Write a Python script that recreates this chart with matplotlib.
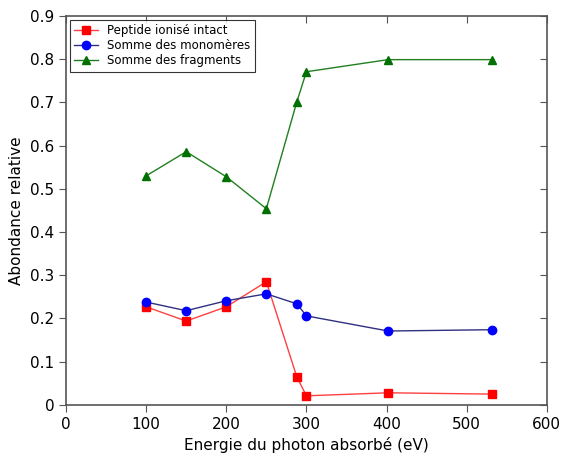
import matplotlib
matplotlib.use("Agg")
from matplotlib import pyplot as plt

# Données
energie = [100, 150, 200, 250, 288, 300, 402, 531]
peptide = [0.227, 0.194, 0.227, 0.285, 0.065, 0.021, 0.028, 0.025]
monomeres = [0.238, 0.218, 0.241, 0.257, 0.234, 0.206, 0.171, 0.174]
fragments = [0.530, 0.586, 0.528, 0.454, 0.701, 0.771, 0.799, 0.799]

xticks = [0, 100, 200, 300, 400, 500, 600]
yticks = [0, 0.1, 0.2, 0.3, 0.4, 0.5, 0.6, 0.7, 0.8, 0.9]
ylabels = ['0', '0.1', '0.2', '0.3', '0.4', '0.5', '0.6', '0.7', '0.8', '0.9']

plt.rcParams['font.family'] = ['DejaVu Sans']
plt.rcParams['font.size'] = 11

fig = plt.figure(figsize=(5.69, 4.57), dpi=100)
ax = fig.add_axes([0.116, 0.114, 0.845, 0.851])

ax.plot(energie, peptide, color='#ff4040', lw=1.0, marker='s', ms=6,
        mfc='red', mec='red', label='Peptide ionisé intact')
ax.plot(energie, monomeres, color='#303080', lw=1.0, marker='o', ms=6,
        mfc='blue', mec='blue', label='Somme des monomères')
ax.plot(energie, fragments, color='#208020', lw=1.0, marker='^', ms=6,
        mfc='#007000', mec='#007000', label='Somme des fragments')

ax.set_xlim(0, 600)
ax.set_ylim(0, 0.9)
ax.set_xticks(xticks)
ax.set_yticks(yticks)
ax.set_yticklabels(ylabels)
ax.tick_params(direction='out', length=5, color='#555555')
for s in ax.spines.values():
    s.set_color('#555555')
    s.set_linewidth(1.2)

# ticks vers l'intérieur en haut et à droite
top = ax.secondary_xaxis('top')
top.set_xticks(xticks)
top.tick_params(direction='in', length=5, color='#555555', labeltop=False)
right = ax.secondary_yaxis('right')
right.set_yticks(yticks)
right.tick_params(direction='in', length=5, color='#555555', labelright=False)
for sec in (top, right):
    for s in sec.spines.values():
        s.set_visible(False)

ax.set_xlabel('Energie du photon absorbé (eV)')
ax.set_ylabel('Abondance relative')

leg = ax.legend(loc='upper left', fontsize=8.5, frameon=True, fancybox=False,
                edgecolor='black', handlelength=2.0, borderaxespad=0.3,
                labelspacing=0.15)
leg.get_frame().set_linewidth(0.8)

plt.savefig('out.png', dpi=100)
